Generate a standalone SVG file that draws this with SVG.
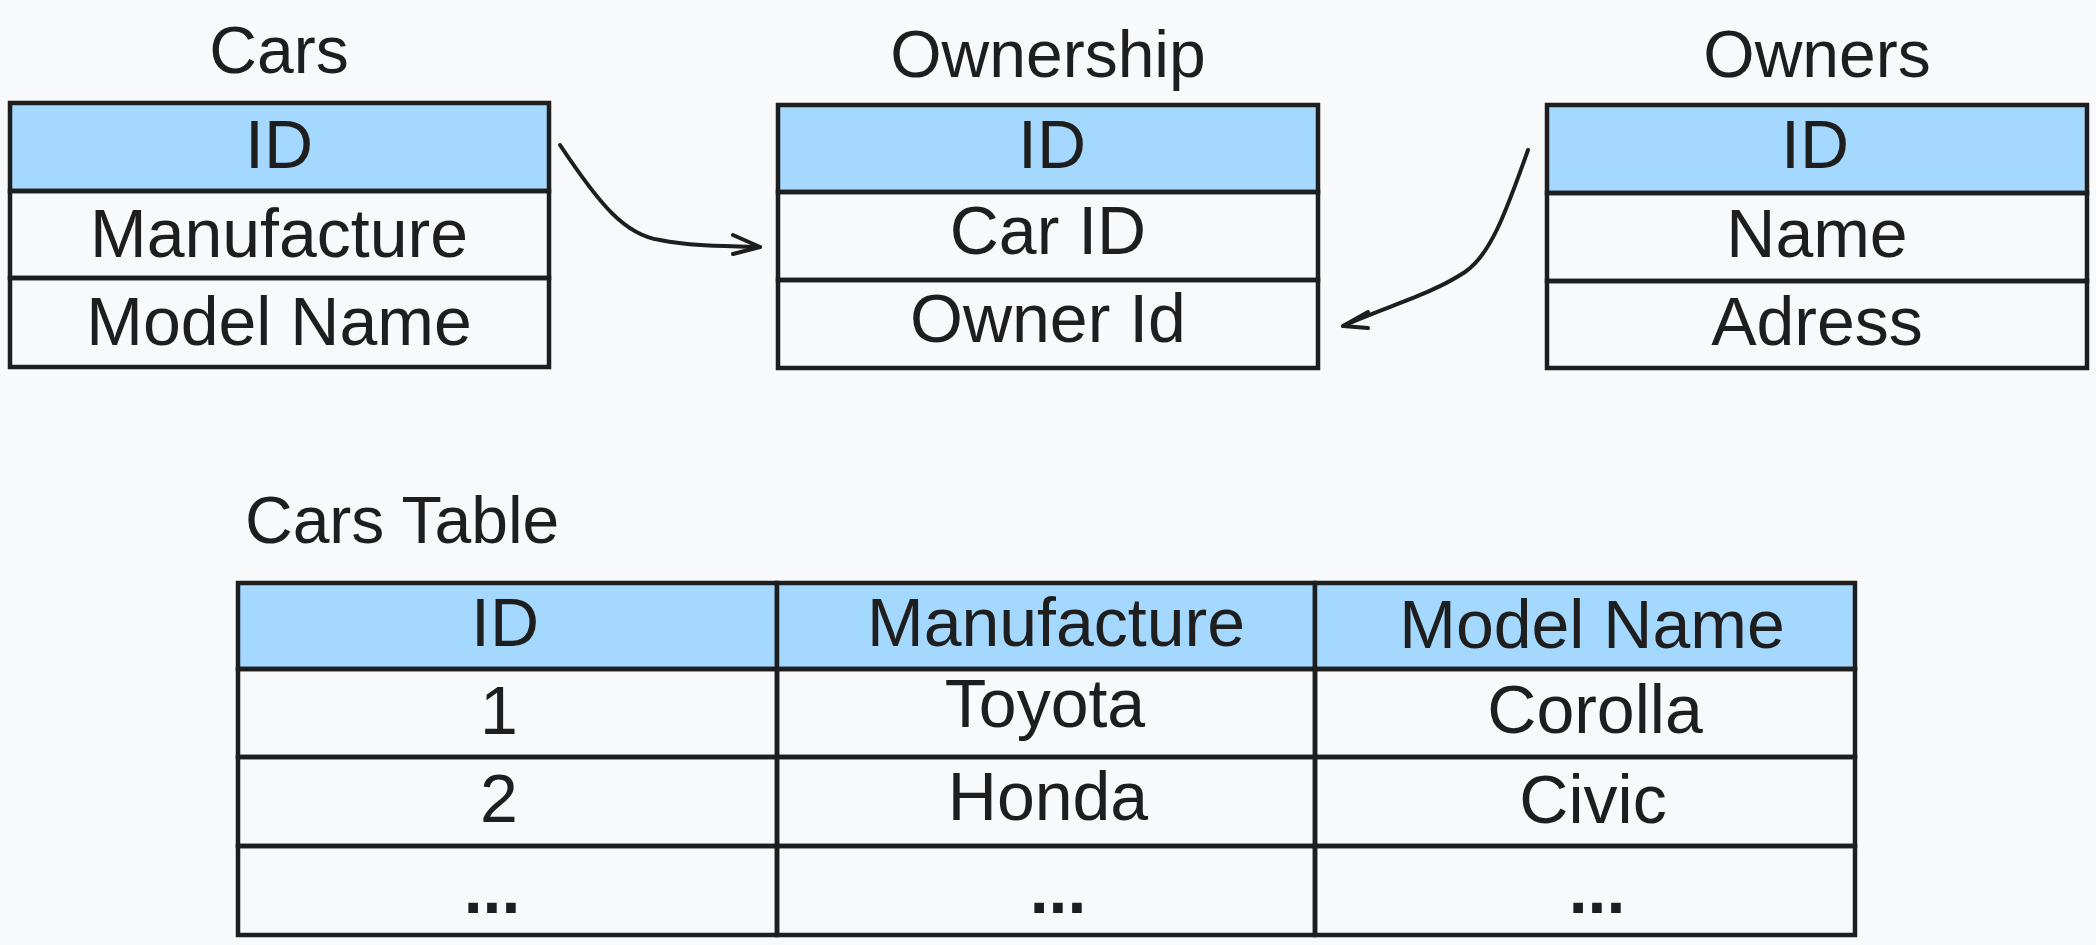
<svg xmlns="http://www.w3.org/2000/svg" width="2096" height="945" viewBox="0 0 2096 945">
  <style>
    .cell { fill: none; stroke: #1e1e1e; stroke-width: 4.5; }
    .head { fill: #a5d8ff; stroke: #1e1e1e; stroke-width: 4.5; }
    .txt { font-family: "Liberation Sans", Arial, sans-serif; font-size: 68px; fill: #1e1e1e; text-anchor: middle; }
    .dots { font-weight: bold; }
    .title { font-family: "Liberation Sans", Arial, sans-serif; font-size: 66px; fill: #1e1e1e; text-anchor: middle; }
    .conn { fill: none; stroke: #1e1e1e; stroke-width: 4; stroke-linecap: round; stroke-linejoin: round; }
  </style>
  <rect x="0" y="0" width="2096" height="945" fill="#f8f9fa"/>

  <g id="cars">
    <text class="title" x="279" y="73">Cars</text>
    <rect class="head" x="10" y="103" width="539" height="88"/>
    <rect class="cell" x="10" y="191" width="539" height="87"/>
    <rect class="cell" x="10" y="278" width="539" height="89"/>
    <text class="txt" x="279" y="168">ID</text>
    <text class="txt" x="279" y="257">Manufacture</text>
    <text class="txt" x="279" y="345">Model Name</text>
  </g>

  <g id="ownership">
    <text class="title" x="1048" y="77">Ownership</text>
    <rect class="head" x="778" y="105" width="540" height="87"/>
    <rect class="cell" x="778" y="192" width="540" height="88"/>
    <rect class="cell" x="778" y="280" width="540" height="88"/>
    <text class="txt" x="1052" y="168">ID</text>
    <text class="txt" x="1048" y="254">Car ID</text>
    <text class="txt" x="1048" y="342">Owner Id</text>
  </g>

  <g id="owners">
    <text class="title" x="1817" y="77">Owners</text>
    <rect class="head" x="1547" y="105" width="540" height="88"/>
    <rect class="cell" x="1547" y="193" width="540" height="88"/>
    <rect class="cell" x="1547" y="281" width="540" height="87"/>
    <text class="txt" x="1815" y="168">ID</text>
    <text class="txt" x="1817" y="257">Name</text>
    <text class="txt" x="1817" y="345">Adress</text>
  </g>

  <g id="cars-table">
    <text class="title" x="245" y="543" style="text-anchor:start">Cars Table</text>
    <rect class="head" x="238" y="583" width="539" height="86"/>
    <rect class="head" x="777" y="583" width="538" height="86"/>
    <rect class="head" x="1315" y="583" width="540" height="86"/>
    <rect class="cell" x="238" y="669" width="539" height="88"/>
    <rect class="cell" x="777" y="669" width="538" height="88"/>
    <rect class="cell" x="1315" y="669" width="540" height="88"/>
    <rect class="cell" x="238" y="757" width="539" height="89"/>
    <rect class="cell" x="777" y="757" width="538" height="89"/>
    <rect class="cell" x="1315" y="757" width="540" height="89"/>
    <rect class="cell" x="238" y="846" width="539" height="89"/>
    <rect class="cell" x="777" y="846" width="538" height="89"/>
    <rect class="cell" x="1315" y="846" width="540" height="89"/>
    <text class="txt" x="505" y="646">ID</text>
    <text class="txt" x="1056" y="646">Manufacture</text>
    <text class="txt" x="1592" y="648">Model Name</text>
    <text class="txt" x="499" y="734">1</text>
    <text class="txt" x="1045" y="727">Toyota</text>
    <text class="txt" x="1595" y="733">Corolla</text>
    <text class="txt" x="499" y="822">2</text>
    <text class="txt" x="1048" y="820">Honda</text>
    <text class="txt" x="1593" y="823">Civic</text>
    <text class="txt dots" x="492" y="913">...</text>
    <text class="txt dots" x="1058" y="913">...</text>
    <text class="txt dots" x="1597" y="913">...</text>
  </g>

  <g id="connectors">
    <path class="conn" d="M 560 145 C 600 205, 625 235, 660 240 C 690 246, 720 246, 760 247"/>
    <polyline class="conn" points="733,235 760,247 733,254"/>
    <path class="conn" d="M 1528 150 C 1505 215, 1490 255, 1465 272 C 1430 295, 1390 305, 1343 326"/>
    <polyline class="conn" points="1368,312 1343,326 1368,328"/>
  </g>
</svg>
